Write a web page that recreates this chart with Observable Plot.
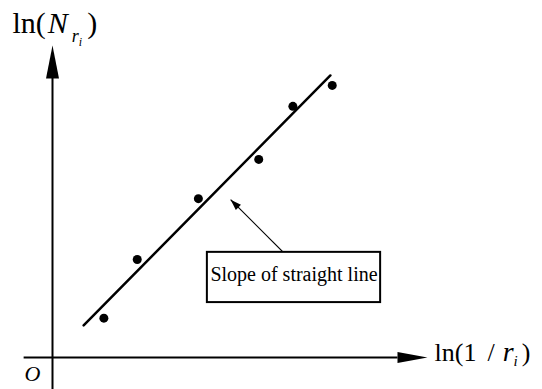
<!DOCTYPE html>
<html>
<head>
<meta charset="utf-8">
<script src="https://cdn.jsdelivr.net/npm/d3@7"></script>
<script src="https://cdn.jsdelivr.net/npm/@observablehq/plot@0.6"></script>
<style>
  html, body { margin: 0; padding: 0; background: #fff; }
  #chart svg { display: block; }
</style>
</head>
<body>
<div id="chart"></div>
<script>
// Measured box-counting points: ln(1/r_i) against ln(N_ri)
const lnInvR = [1.37, 2.26, 3.89, 5.50, 6.41, 7.46];
const lnN    = [1.26, 3.14, 5.09, 6.35, 8.05, 8.72];

// Ends of the fitted straight line
const fitX = [0.83, 7.41];
const fitY = [1.03, 9.04];

// Callout: box corners and pointer (tail -> tip)
const noteText = "Slope of straight line";
const noteBoxX = [4.13, 8.75];
const noteBoxY = [1.76, 3.37];
const notePointerX = [6.13, 4.75];
const notePointerY = [3.40, 5.06];

// Axis labels
const xLabel = "ln(1 / ri)";
const yLabel = "ln(Nri)";
const originLabel = "O";

// Axis extents (data units); arrow tips at the top end
const xAxisExtent = [-0.77, 10];
const yAxisExtent = [-1.03, 10];

const W = 542, H = 389;
const xRange = [52, 427], yRange = [357, 45];
const kx = (xRange[1] - xRange[0]) / 10;
const ky = (yRange[0] - yRange[1]) / 10;

const serif = "Liberation Serif, Times New Roman, serif";

// Filled arrowheads drawn as custom dot symbols, tip at the dot's position
const headUp = {draw(c) { c.moveTo(0, 0); c.lineTo(6.5, 33); c.lineTo(-6.5, 33); c.closePath(); }};
const headRight = {draw(c) { c.moveTo(0, 0); c.lineTo(-30, -5.5); c.lineTo(-30, 5.5); c.closePath(); }};
const headSmall = {draw(c) { c.moveTo(0, 0); c.lineTo(3.6, 11); c.lineTo(-3.6, 11); c.closePath(); }};

const points = lnInvR.map((x, i) => ({x, y: lnN[i]}));
const fit = fitX.map((x, i) => ({x, y: fitY[i]}));

// Pointer direction on screen, as a clockwise angle from "up"
const sx = (notePointerX[1] - notePointerX[0]) * kx;
const sy = -(notePointerY[1] - notePointerY[0]) * ky;
const pointerAngle = Math.atan2(sx, -sy) * 180 / Math.PI;

const chart = Plot.plot({
  width: W,
  height: H,
  margin: 0,
  style: {background: "#fff", fontFamily: serif},
  x: {domain: [0, 10], range: xRange, axis: null},
  y: {domain: [0, 10], range: yRange, axis: null},
  marks: [
    // axes
    Plot.link([0], {x1: xAxisExtent[0], x2: xAxisExtent[1] - 30 / kx, y1: 0, y2: 0, stroke: "#000", strokeWidth: 2}),
    Plot.link([0], {x1: 0, x2: 0, y1: yAxisExtent[0], y2: yAxisExtent[1] - 30 / ky, stroke: "#000", strokeWidth: 2}),
    Plot.dot([0], {x: xAxisExtent[1], y: 0, symbol: headRight, fill: "#000", stroke: null}),
    Plot.dot([0], {x: 0, y: yAxisExtent[1], symbol: headUp, fill: "#000", stroke: null}),
    // fitted line and points
    Plot.line(fit, {x: "x", y: "y", stroke: "#000", strokeWidth: 2.5}),
    Plot.dot(points, {x: "x", y: "y", r: 4.5, fill: "#000", stroke: null}),
    // callout
    Plot.link([0], {x1: notePointerX[0], y1: notePointerY[0], x2: notePointerX[1], y2: notePointerY[1], stroke: "#000", strokeWidth: 1.2}),
    Plot.dot([0], {x: notePointerX[1], y: notePointerY[1], symbol: headSmall, rotate: pointerAngle, fill: "#000", stroke: null}),
    Plot.rect([0], {x1: noteBoxX[0], x2: noteBoxX[1], y1: noteBoxY[0], y2: noteBoxY[1], fill: "#fff", stroke: "#000", strokeWidth: 2}),
    Plot.text([noteText], {x: (noteBoxX[0] + noteBoxX[1]) / 2, y: 2.44, text: d => d, fontSize: 20, lineAnchor: "bottom", textAnchor: "middle", fill: "#000"}),
    // labels
    Plot.text([yLabel], {frameAnchor: "top-left", dx: 12, dy: 32, text: d => d, fontSize: 30, lineAnchor: "bottom", textAnchor: "start", fill: "#000"}),
    Plot.text([xLabel], {frameAnchor: "top-left", dx: 434, dy: 360, text: d => d, fontSize: 26, lineAnchor: "bottom", textAnchor: "start", fill: "#000"}),
    Plot.text([originLabel], {frameAnchor: "top-left", dx: 24, dy: 380, text: d => d, fontSize: 22, fontStyle: "italic", lineAnchor: "bottom", textAnchor: "start", fill: "#000"})
  ]
});

// Typeset the axis labels with italic variables and nested subscripts
function typeset(label, parts) {
  d3.select(chart).selectAll("text")
    .filter(function() { return this.textContent === label; })
    .each(function() {
      const t = d3.select(this);
      t.text(null);
      for (const p of parts) {
        const s = t.append("tspan").text(p.t);
        if (p.italic) s.attr("font-style", "italic");
        if (p.size) s.attr("font-size", p.size);
        if (p.dy) s.attr("dy", p.dy);
        if (p.dx) s.attr("dx", p.dx);
      }
    });
}
typeset(yLabel, [
  {t: "ln("},
  {t: "N", italic: true, dx: 2},
  {t: "r", italic: true, size: 18, dy: 9, dx: 4},
  {t: "i", italic: true, size: 12, dy: 4},
  {t: ")", size: 30, dy: -13, dx: 5}
]);
typeset(xLabel, [
  {t: "ln(1"},
  {t: "/", dx: 11},
  {t: "r", italic: true, size: 28, dx: 8},
  {t: "i", italic: true, size: 15, dy: 5},
  {t: ")", size: 26, dy: -5, dx: 4}
]);

document.getElementById("chart").append(chart);
</script>
</body>
</html>
